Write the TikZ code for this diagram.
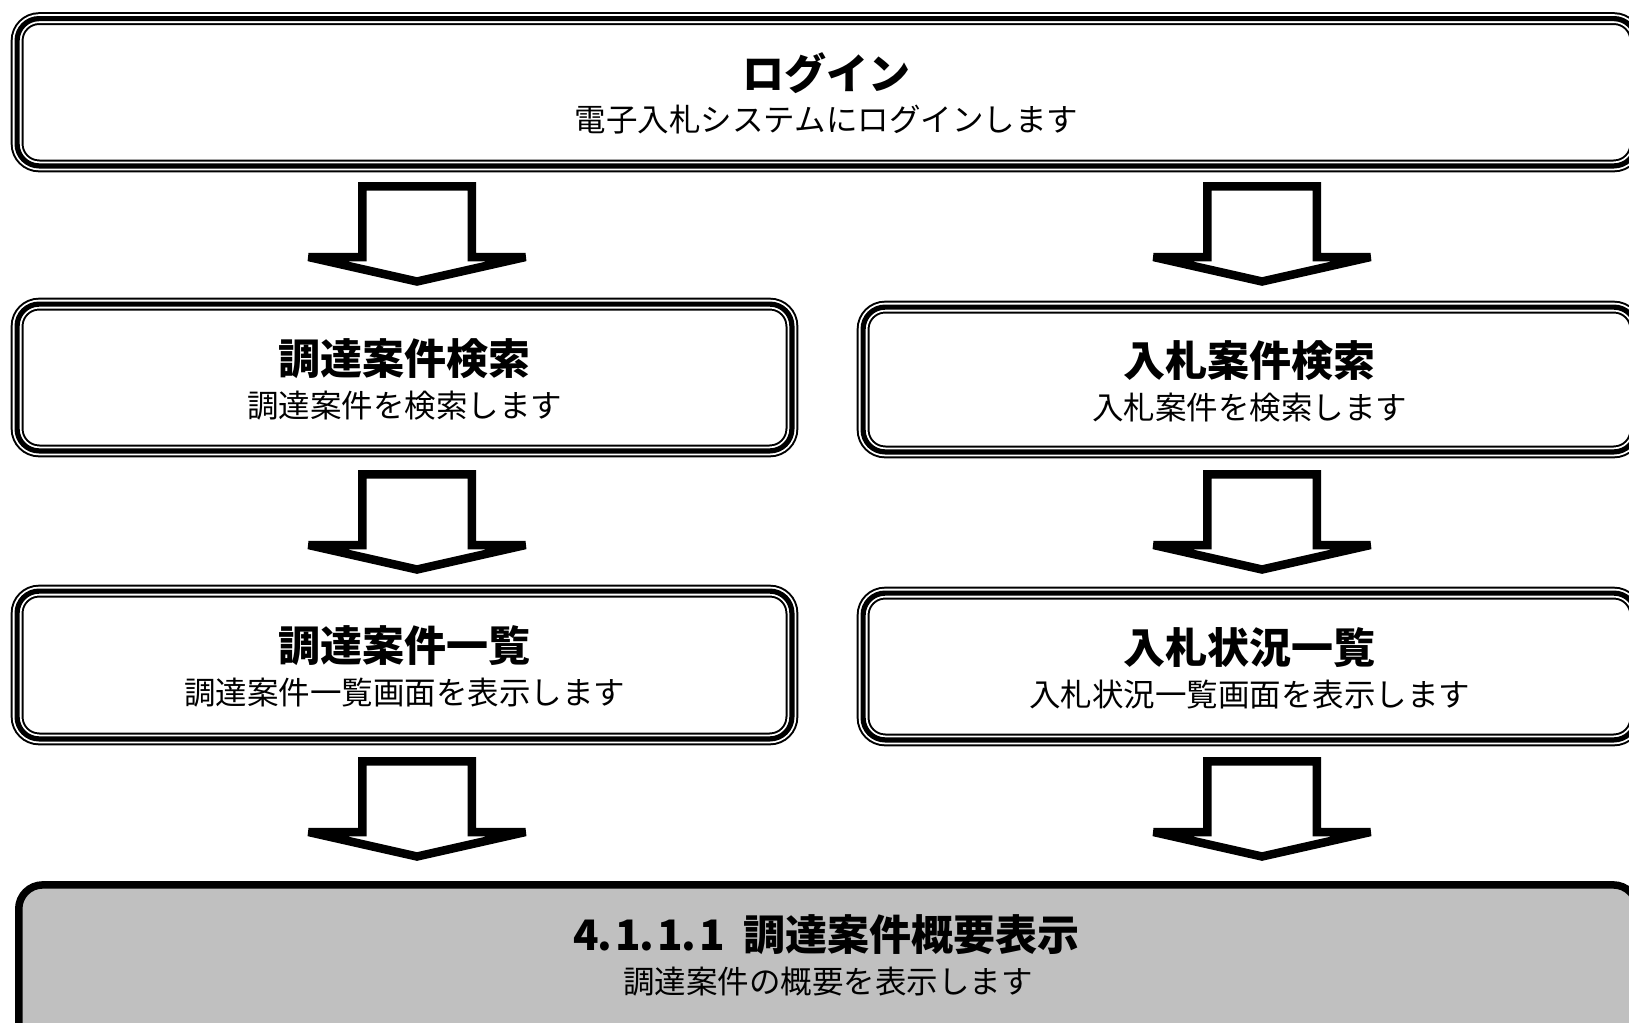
\documentclass[tikz,border=0pt]{standalone}
\usepackage{fontspec}
\newfontfamily\jp{Noto Sans CJK JP}
\usetikzlibrary{calc}
\definecolor{boxgray}{HTML}{C0C0C0}
\newcommand\hwc[2][c]{\makebox[0.5em][#1]{#2}}
\tikzset{
  tribox/.style={draw=black, line width=2.6pt, rounded corners=11pt, inner sep=0pt,
    preaction={draw=black, line width=6.4pt},
    preaction={draw=white, line width=4.4pt}},
  goalbox/.style={draw=black, fill=boxgray, line width=3.75pt, rounded corners=12pt, inner sep=0pt},
  titletext/.style={font=\jp\bfseries\fontsize{21pt}{25pt}\selectfont, inner sep=0pt},
  subtext/.style={font=\jp\fontsize{15.75pt}{19pt}\selectfont, inner sep=0pt},
  blockarrow/.pic={
    \draw[line width=4.25pt, miter limit=4, line join=miter]
      (-54.75,75) -- (-54.75,4.25) -- (54.75,4.25) -- (54.75,75)
      -- (108.5,75) -- (0,99.5) -- (-108.5,75) -- cycle;
  }
}
\begin{document}
\begin{tikzpicture}[x=0.5pt, y=-0.5pt]
\useasboundingbox (0,0) rectangle (1629,1023);
\clip (0,0) rectangle (1629,1023);
\fill[white] (0,0) rectangle (1629,1023);

% boxes
\node[tribox, minimum width=809.4pt, minimum height=73.65pt] (login) at (826.5,92.25) {};
\node[tribox, minimum width=387.4pt, minimum height=73.4pt] (csearch) at (404.5,377.5) {};
\node[tribox, minimum width=386.4pt, minimum height=72.4pt] (nsearch) at (1249.5,379.5) {};
\node[tribox, minimum width=387.4pt, minimum height=73.9pt] (clist) at (404.5,665) {};
\node[tribox, minimum width=386.4pt, minimum height=73.4pt] (nlist) at (1249.5,666.5) {};
\node[goalbox, minimum width=809.25pt, minimum height=87.5pt] (goal) at (828,972.4) {};

% texts
\node[titletext] (loginT) at ($(login.center)+(0,-19)$) {ログイン};
\node[subtext] (loginS) at ($(login.center)+(0,27)$) {電子入札システムにログインします};
\node[titletext] (csearchT) at ($(csearch.center)+(0,-19)$) {調達案件検索};
\node[subtext] (csearchS) at ($(csearch.center)+(0,28)$) {調達案件を検索します};
\node[titletext] (nsearchT) at ($(nsearch.center)+(0,-19)$) {入札案件検索};
\node[subtext] (nsearchS) at ($(nsearch.center)+(0,28)$) {入札案件を検索します};
\node[titletext] (clistT) at ($(clist.center)+(0,-19)$) {調達案件一覧};
\node[subtext] (clistS) at ($(clist.center)+(0,28)$) {調達案件一覧画面を表示します};
\node[titletext] (nlistT) at ($(nlist.center)+(0,-19)$) {入札状況一覧};
\node[subtext] (nlistS) at ($(nlist.center)+(0,28)$) {入札状況一覧画面を表示します};
\node[titletext] (goalT) at (828,935) {\hwc{4}\hwc[l]{.}\hwc{1}\hwc[l]{.}\hwc{1}\hwc[l]{.}\hwc{1}\hwc{ }調達案件概要表示};
\node[subtext] (goalS) at (828,982) {調達案件の概要を表示します};

% block arrows
\pic (a1l) at (417,182) {blockarrow};
\pic (a1r) at (1262,182) {blockarrow};
\pic (a2l) at (417,470) {blockarrow};
\pic (a2r) at (1262,470) {blockarrow};
\pic (a3l) at (417,757) {blockarrow};
\pic (a3r) at (1262,757) {blockarrow};
\end{tikzpicture}
\end{document}
